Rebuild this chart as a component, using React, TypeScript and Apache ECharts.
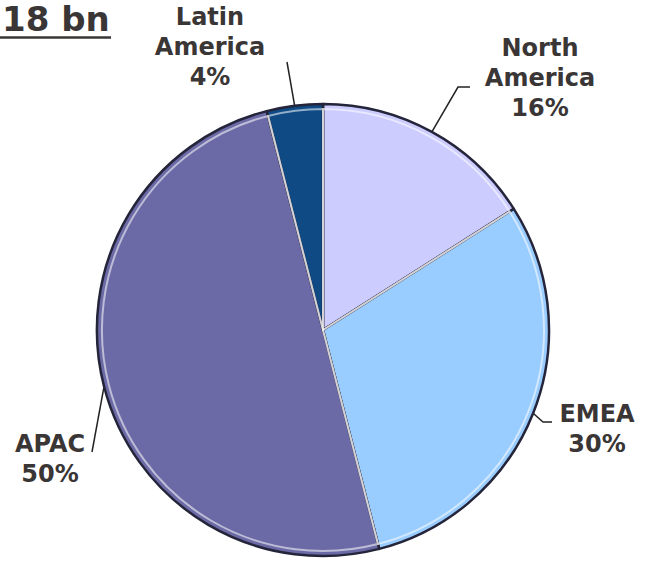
import React, { useEffect, useRef } from "react";
import * as echarts from "echarts";

const regions = ["North America", "EMEA", "APAC", "Latin America"];
const labelLines = [["North", "America"], ["EMEA"], ["APAC"], ["Latin", "America"]];
const shares = [16, 30, 50, 4];
const colors = ["#CCCCFF", "#99CCFF", "#6C6AA6", "#0F4A85"];
const titleText = "18 bn";

// label anchor (center x, middle y) and leader line bends, layout only
const labelAnchors: Record<string, { x: number; y: number; line: number[][] }> = {
  "North America": { x: 540, y: 78, line: [[458, 87], [470, 87]] },
  EMEA: { x: 597, y: 429, line: [[543, 422], [552, 422]] },
  APAC: { x: 50, y: 459, line: [[92, 452]] },
  "Latin America": { x: 210, y: 47, line: [[287, 62]] },
};

const CX = 323;
const CY = 330;
const R = 226;

export default function App() {
  const ref = useRef<HTMLDivElement>(null);
  useEffect(() => {
    if (!ref.current) return;
    const chart = echarts.init(ref.current, undefined, { renderer: "svg" });
    const total = shares.reduce((a, b) => a + b, 0);
    const starts: number[] = [];
    let acc = 0;
    shares.forEach((v) => {
      starts.push(acc);
      acc += v;
    });
    const textColor = "#3a3636";
    chart.setOption({
      animation: false,
      backgroundColor: "#ffffff",
      graphic: [
        {
          type: "text",
          left: 2,
          top: 2,
          style: {
            text: titleText,
            font: "bold 34px 'DejaVu Sans'",
            fill: textColor,
          },
        },
        {
          type: "line",
          shape: { x1: 0, y1: 37.5, x2: 111, y2: 37.5 },
          style: { stroke: textColor, lineWidth: 2.5 },
        },
      ],
      series: [
        {
          type: "pie",
          center: [CX, CY],
          radius: R,
          startAngle: 90,
          clockwise: true,
          avoidLabelOverlap: false,
          itemStyle: { borderColor: "#24243a", borderWidth: 2.5 },
          label: {
            show: true,
            color: textColor,
            fontFamily: "DejaVu Sans",
            fontWeight: "bold",
            fontSize: 24,
            lineHeight: 30,
            align: "center",
            formatter: (p: any) => {
              const idx = regions.indexOf(p.name);
              return labelLines[idx].join("\n") + "\n" + p.value + "%";
            },
          },
          labelLine: {
            show: true,
            length: 10,
            length2: 10,
            lineStyle: { color: "#222222", width: 1.5 },
          },
          labelLayout: (params: any) => {
            const name = regions[params.dataIndex];
            const a = labelAnchors[name];
            const mid = (starts[params.dataIndex] + shares[params.dataIndex] / 2) / total;
            const ang = mid * Math.PI * 2;
            const start = [CX + R * Math.sin(ang), CY - R * Math.cos(ang)];
            const pts = [start, ...a.line];
            while (pts.length < 3) pts.push(pts[pts.length - 1]);
            return {
              x: a.x,
              y: a.y,
              align: "center",
              verticalAlign: "middle",
              labelLinePoints: pts,
            };
          },
          data: regions.map((r, i) => ({
            name: r,
            value: shares[i],
            itemStyle: { color: colors[i] },
          })),
        },
        {
          type: "pie",
          center: [CX, CY],
          radius: R - 5,
          startAngle: 90,
          clockwise: true,
          silent: true,
          label: { show: false },
          labelLine: { show: false },
          itemStyle: {
            color: "rgba(0,0,0,0)",
            borderColor: "rgba(255,255,255,0.55)",
            borderWidth: 2,
          },
          data: regions.map((r, i) => ({ name: r + " ", value: shares[i] })),
        },
      ],
    });
    return () => chart.dispose();
  }, []);
  return (
    <div
      ref={ref}
      style={{ position: "fixed", left: 0, top: 0, width: 645, height: 562 }}
    />
  );
}
